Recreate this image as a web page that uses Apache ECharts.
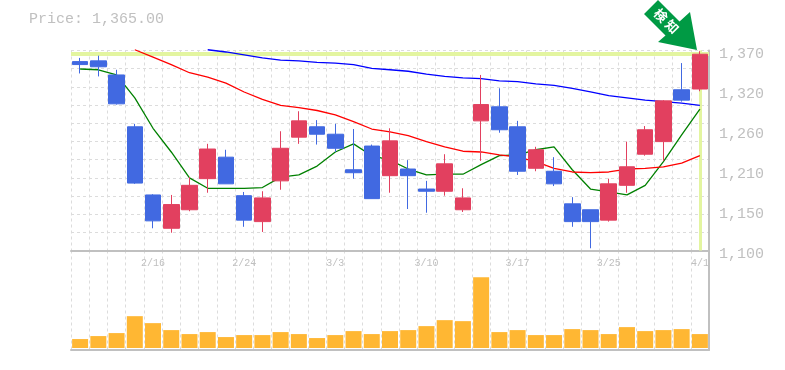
<!DOCTYPE html>
<html><head><meta charset="utf-8">
<style>html,body{margin:0;padding:0;background:#fff}#c{width:785px;height:370px}</style>
<script src="https://cdn.jsdelivr.net/npm/echarts@6/dist/echarts.min.js"></script>
</head><body><div id="c"></div>
<script>
const categories = ['2/9','2/10','2/12','2/13','2/16','2/17','2/18','2/19','2/20','2/24','2/25','2/26','2/27','3/2','3/3','3/4','3/5','3/6','3/9','3/10','3/11','3/12','3/13','3/16','3/17','3/18','3/19','3/23','3/24','3/25','3/26','3/27','3/30','3/31','4/1'];
const tickLabels = ['2/16','2/24','3/3','3/10','3/17','3/25','4/1'];
const opens  = [1355,1356,1337,1267,1175,1130,1155,1197,1226,1174,1139,1194,1253,1267,1257,1209,1241,1201,1210,1183,1180,1155,1275,1294,1267,1211,1207,1163,1155,1141,1188,1230,1247,1317,1318];
const closes = [1351,1348,1298,1191,1140,1162,1188,1237,1190,1141,1171,1238,1275,1257,1238,1205,1170,1248,1201,1180,1217,1171,1297,1263,1207,1236,1190,1139,1139,1190,1213,1263,1302,1303,1365];
const highs  = [1360,1363,1344,1271,1176,1175,1199,1244,1236,1179,1180,1261,1288,1276,1271,1264,1243,1265,1222,1194,1230,1184,1337,1319,1275,1240,1226,1172,1155,1197,1247,1268,1303,1353,1369];
const lows   = [1339,1335,1297,1190,1130,1124,1153,1178,1190,1132,1125,1182,1244,1243,1233,1197,1170,1178,1156,1151,1174,1152,1221,1259,1202,1207,1187,1132,1103,1139,1178,1228,1221,1301,1315];
const volumes = [9,12,15,32,25,18,14,16,11,13,13,16,14,10,13,17,14,17,18,22,28,27,71,16,18,13,13,19,18,14,21,17,18,19,14];
const maGreen = [1345,1344,1337,1306,1265,1233,1198,1184,1184,1184,1185,1199,1202,1214,1233,1244,1228,1222,1210,1202,1203,1203,1216,1228,1229,1236,1240,1209,1183,1179,1175,1188,1220,1256,1291];
const maRed = [null,null,null,1371,1361,1351,1340,1334,1326,1314,1304,1296,1293,1289,1283,1274,1264,1260,1255,1247,1240,1234,1233,1229,1226,1220,1211,1206,1205,1206,1210,1211,1213,1218,1228];
const maBlue = [null,null,null,null,null,null,null,1371,1368,1364,1360,1357,1356,1354,1353,1351,1346,1344,1342,1338,1335,1333,1332,1329,1328,1325,1323,1319,1314,1309,1306,1303,1301,1299,1296];
const lastPrice = 1365;
const up = '#e2405f', down = '#4169e1', hi = '#e3f5a0', gridC = '#dcdcdc', axisC = '#c0c0c0', F = '"Liberation Mono", monospace';

const chart = echarts.init(document.getElementById('c'), null, {renderer:'canvas'});
const L = 71, R = 76;
chart.setOption({
  animation:false, backgroundColor:'#fff',
  title:{text:'Price: 1,365.00', left:24, top:7, textStyle:{color:axisC, fontFamily:F, fontSize:15, fontWeight:'normal'}},
  grid:[
    {left:L, right:R, top:50.5, height:200, show:false},
    {left:L, right:R, top:250.5, height:99.5, show:false}
  ],
  xAxis:[
    {type:'category', gridIndex:0, data:categories, boundaryGap:true, axisLine:{onZero:false, lineStyle:{color:axisC, width:2}}, axisTick:{show:false},
      splitLine:{show:true, interval:0, lineStyle:{color:gridC, type:[3,3], width:1}},
      axisLabel:{interval:(i,v)=>tickLabels.includes(v), color:axisC, fontFamily:F, fontSize:10, margin:8, hideOverlap:false}},
    {type:'category', gridIndex:1, data:categories, boundaryGap:true, axisLine:{onZero:false, lineStyle:{color:axisC, width:2}}, axisTick:{show:false}, axisLabel:{show:false},
      splitLine:{show:true, interval:0, lineStyle:{color:gridC, type:[3,3], width:1}}}
  ],
  yAxis:[
    {type:'value', gridIndex:0, position:'right', min:1100, max:1370, interval:54, scale:true,
      axisLine:{show:true, onZero:false, lineStyle:{color:axisC, width:2}}, axisTick:{show:false}, splitLine:{show:false},
      axisLabel:{color:axisC, fontFamily:F, fontSize:15, margin:10, verticalAlign:'top', padding:[-4,0,0,0],
        formatter:v=>(Math.round(v/10)*10).toLocaleString('en-US')}},
    {type:'value', gridIndex:0, min:0, max:11, interval:1, axisLine:{show:false}, axisTick:{show:false}, axisLabel:{show:false},
      splitLine:{show:true, lineStyle:{color:gridC, type:[3,3], width:1}}},
    {type:'value', gridIndex:1, position:'right', min:-2, max:98, axisLine:{show:true, onZero:false, lineStyle:{color:axisC, width:2}}, axisTick:{show:false}, axisLabel:{show:false}, splitLine:{show:false}}
  ],
  series:[
    {name:'MA1', type:'line', xAxisIndex:0, yAxisIndex:0, data:maGreen, showSymbol:false, clip:false, z:3, lineStyle:{color:'#008000', width:1.3},
      markLine:{silent:true, symbol:'none', z:2, label:{show:false}, lineStyle:{color:hi, width:3, type:'solid'},
        data:[{yAxis:lastPrice, lineStyle:{color:hi, width:4, type:'solid'}},{xAxis:categories[categories.length-1]}], animation:false}},
    {name:'MA2', type:'line', xAxisIndex:0, yAxisIndex:0, data:maRed, showSymbol:false, clip:false, z:3, lineStyle:{color:'#ff0000', width:1.3}},
    {name:'MA3', type:'line', xAxisIndex:0, yAxisIndex:0, data:maBlue, showSymbol:false, clip:false, z:3, lineStyle:{color:'#0000ff', width:1.3}},
    {name:'Price', type:'candlestick', xAxisIndex:0, yAxisIndex:0, barWidth:16, z:4,
      data:opens.map((o,i)=>[o,closes[i],lows[i],highs[i]]),
      itemStyle:{color:up, color0:down, borderColor:up, borderColor0:down, borderWidth:1}},
    {name:'Volume', type:'bar', xAxisIndex:1, yAxisIndex:2, data:volumes, barWidth:16, itemStyle:{color:'#ffb733'}, z:3}
  ],
  graphic:[
    {type:'polygon', z:10, shape:{points:[[697,50],[690,12],[679.5,21.5],[658,0],[644,14],[665.5,35.5],[658,42]]}, style:{fill:'#009a44'}},
    {type:'text', z:11, x:666.5, y:21, rotation:-Math.PI/4, style:{text:'検 知', fill:'#fff', fontFamily:'"Noto Sans CJK JP"', fontSize:13, fontWeight:'bold', align:'center', verticalAlign:'middle'}}
  ]
});
</script></body></html>
